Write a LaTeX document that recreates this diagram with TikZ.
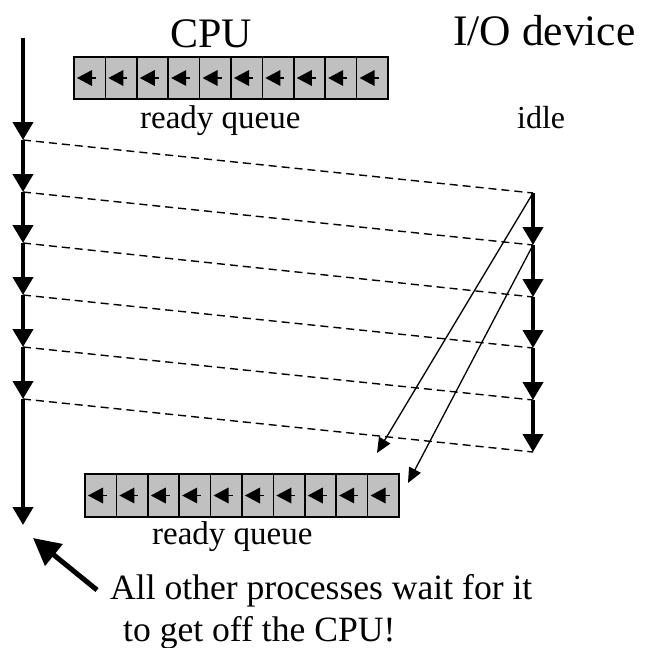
\documentclass[tikz,border=0pt]{standalone}
\usepackage{fontspec}
\setmainfont{Liberation Serif}
\usetikzlibrary{arrows.meta}

\definecolor{cellgray}{HTML}{C0C0C0}

\tikzset{
  timeline/.style={line width=4pt, -{Triangle[length=18pt,width=20pt]}},
  handoff/.style={line width=1.4pt, dash pattern=on 8pt off 5pt},
  wakeup/.style={line width=1.3pt, -{Triangle[length=15pt,width=13pt]}},
  pointer/.style={line width=5pt, -{Triangle[length=27pt,width=27pt]}},
  cellbox/.style={draw=black, line width=1.5pt, fill=cellgray},
  cellstem/.style={line width=1.6pt},
  cellhead/.style={fill=black},
  lbl/.style={inner sep=0pt, anchor=base west},
}

% a ready queue of ten cells, left edge #1, top #2, bottom #3
\newcommand{\readyqueue}[3]{%
  \foreach \k in {0,...,9}{
    \pgfmathsetmacro{\xl}{#1+\k*31.4}
    \pgfmathsetmacro{\xr}{\xl+31.4}
    \pgfmathsetmacro{\yc}{(#2+#3)/2}
    \path[cellbox] (\xl,#2) rectangle (\xr,#3);
    \draw[cellstem] (\xl+17,\yc) -- (\xl+22,\yc);
    \fill[cellhead] (\xl+3,\yc) -- (\xl+18,\yc-8) -- (\xl+18,\yc+8) -- cycle;
  }%
}

\begin{document}
\begin{tikzpicture}[x=1pt,y=-1pt]
  \path[fill=white] (0,0) rectangle (649,648);
  \useasboundingbox (0,0) rectangle (649,648);

  % titles
  \node[inner sep=0pt, anchor=base] (cpu) at (211,47) {\fontsize{42}{48}\selectfont CPU};
  \node[lbl] (io) at (453,45) {\fontsize{43.5}{50}\selectfont I/O device};
  \node[lbl] (rq1) at (140,128) {\fontsize{33}{38}\selectfont ready queue};
  \node[lbl] (idle) at (517,128) {\fontsize{32}{37}\selectfont idle};
  \node[lbl] (rq2) at (152,544) {\fontsize{33}{38}\selectfont ready queue};
  \node[lbl] (note1) at (110,599) {\fontsize{35.6}{40}\selectfont All other processes wait for it};
  \node[lbl] (note2) at (123,641) {\fontsize{35.6}{40}\selectfont to get off the CPU!};

  % queues
  \readyqueue{74}{57}{99}
  \readyqueue{85}{474}{517}

  % CPU timeline points
  \coordinate (t0) at (23,38);
  \coordinate (t1) at (23,140);
  \coordinate (t2) at (23,192);
  \coordinate (t3) at (23,243);
  \coordinate (t4) at (23,295);
  \coordinate (t5) at (23,347);
  \coordinate (t6) at (23,399);
  \coordinate (t7) at (23,525);

  % I/O timeline points
  \coordinate (r0) at (533,193);
  \coordinate (r1) at (533,245);
  \coordinate (r2) at (533,297);
  \coordinate (r3) at (533,348);
  \coordinate (r4) at (533,400);
  \coordinate (r5) at (533,452);

  % CPU bursts
  \foreach \a/\b in {t0/t1,t1/t2,t2/t3,t3/t4,t4/t5,t5/t6,t6/t7}
    \draw[timeline] (\a) -- (\b);

  % I/O bursts
  \foreach \a/\b in {r0/r1,r1/r2,r2/r3,r3/r4,r4/r5}
    \draw[timeline] (\a) -- (\b);

  % hand-offs from CPU to the I/O device
  \foreach \a/\b in {t1/r0,t2/r1,t3/r2,t4/r3,t5/r4,t6/r5}
    \draw[handoff] (\a) -- (\b);

  % processes returning to the ready queue
  \coordinate (q1) at (377,453);
  \coordinate (q2) at (408,483);
  \draw[wakeup] (r0) -- (q1);
  \draw[wakeup] (r1) -- (q2);

  % pointer to the end of the long CPU burst
  \coordinate (ptail) at (97,590);
  \coordinate (phead) at (33,538);
  \draw[pointer] (ptail) -- (phead);
\end{tikzpicture}
\end{document}
